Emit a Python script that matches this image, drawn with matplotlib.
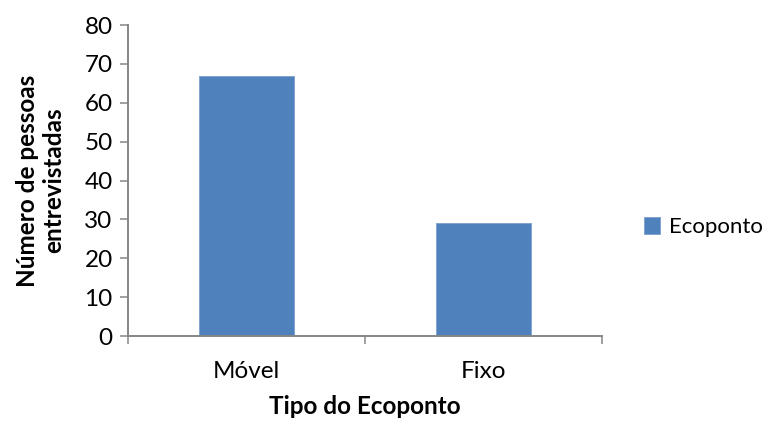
import matplotlib
matplotlib.use("Agg")
import matplotlib.pyplot as plt
from matplotlib.patches import Patch

# Data
categories = ["Móvel", "Fixo"]
counts = [67, 29]
series_name = "Ecoponto"

plt.rcParams['font.family'] = ['Lato', 'DejaVu Sans']

bar_color = "#4F81BD"
axis_color = "#868686"
fs = 17.5

fig = plt.figure(figsize=(7.69, 4.21), dpi=100)
ax = fig.add_axes([0.1664, 0.2019, 0.6165, 0.7387])

x = range(len(categories))
ax.bar(x, counts, width=0.4, color=bar_color, edgecolor="#7A9FCF", linewidth=0.6)

ax.set_xlim(-0.5, len(categories) - 0.5)
ax.set_ylim(0, 80)
ax.set_yticks(range(0, 81, 10))

# category labels centred, tick marks between categories
ax.set_xticks([i - 0.5 for i in range(len(categories) + 1)])
ax.set_xticklabels([])
ax.set_xticks(list(x), minor=True)
ax.set_xticklabels(categories, minor=True)
ax.tick_params(axis="x", which="minor", length=0, pad=18, labelsize=fs)
ax.tick_params(axis="x", which="major", length=6, width=1.1, color=axis_color, direction="out")
ax.tick_params(axis="y", length=6, width=1.1, color=axis_color, direction="out", labelsize=fs, pad=5)

for side in ["top", "right"]:
    ax.spines[side].set_visible(False)
for side in ["left", "bottom"]:
    ax.spines[side].set_color(axis_color)
    ax.spines[side].set_linewidth(1.4)

ax.set_xlabel("Tipo do Ecoponto", fontsize=fs, fontweight="bold", labelpad=9)
ax.set_ylabel("Número de pessoas\nentrevistadas", fontsize=fs, fontweight="bold",
              labelpad=14, linespacing=1.15)

handle = Patch(facecolor=bar_color, edgecolor="#7A9FCF", linewidth=0.6)
fig.legend([handle], [series_name], loc="center left", bbox_to_anchor=(0.837, 0.46),
           frameon=False, fontsize=16, handlelength=0.75, handleheight=0.75,
           handletextpad=0.4, borderaxespad=0, borderpad=0)

fig.savefig("out.png", dpi=100)
